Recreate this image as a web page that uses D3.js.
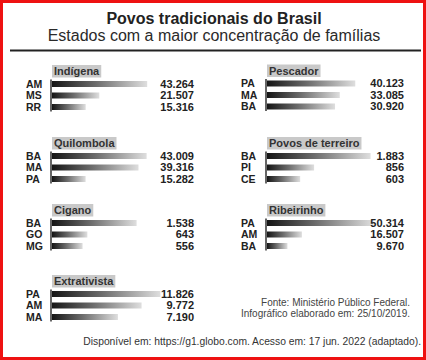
<!DOCTYPE html>
<html><head><meta charset="utf-8">
<script src="https://cdn.jsdelivr.net/npm/d3@7"></script>
<style>
html,body{margin:0;padding:0;background:#fff;}
svg{display:block;font-family:"Liberation Sans",Arial,sans-serif;}
</style></head>
<body>
<svg id="c" width="426" height="360"></svg>
<script>
const titleText = "Povos tradicionais do Brasil";
const subtitleText = "Estados com a maior concentração de famílias";
const panelNames = ["Indígena","Quilombola","Cigano","Extrativista","Pescador","Povos de terreiro","Ribeirinho"];
const panelStates = [["AM","MS","RR"],["BA","MA","PA"],["BA","GO","MG"],["PA","AM","MA"],["PA","MA","BA"],["BA","PI","CE"],["PA","AM","BA"]];
const panelValues = [[43264,21507,15316],[43009,39316,15282],[1538,643,556],[11826,9772,7190],[40123,33085,30920],[1883,856,603],[50314,16507,9670]];
const panelScaleMax = [50000,50000,2000,12000,50000,2000,52000];
const footerLines = ["Fonte: Ministério Público Federal.","Infográfico elaborado em: 25/10/2019."];
const sourceLine = "Disponível em: https://g1.globo.com. Acesso em: 17 jun. 2022 (adaptado).";

// layout
const panelCol = [0,0,0,0,1,1,1];
const panelTop = [65,137,204,275,64.5,137,204];
const axisX = [51,266];
const valueX = [194,404];
const barMaxW = 110;

const svg = d3.select("#c");
const fmt = d3.formatLocale({decimal:",",thousands:".",grouping:[3],currency:["R$",""]}).format(",d");

const defs = svg.append("defs");
const grad = defs.append("linearGradient").attr("id","barGrad");
grad.append("stop").attr("offset","0%").attr("stop-color","#151515");
grad.append("stop").attr("offset","45%").attr("stop-color","#6a6a6a");
grad.append("stop").attr("offset","100%").attr("stop-color","#dedede");

// red frame
svg.append("rect").attr("x",1.5).attr("y",1.5).attr("width",423).attr("height",357)
  .attr("fill","none").attr("stroke","#ee1111").attr("stroke-width",3);

svg.append("text").attr("x",214).attr("y",24).attr("text-anchor","middle")
  .attr("font-size",16).attr("font-weight","bold").attr("fill","#222").text(titleText);
svg.append("text").attr("x",214).attr("y",41).attr("text-anchor","middle")
  .attr("font-size",16).attr("fill","#2a2a2a").text(subtitleText);
svg.append("line").attr("x1",10).attr("x2",421).attr("y1",50.5).attr("y2",50.5)
  .attr("stroke","#222").attr("stroke-width",2);

panelNames.forEach((name,i)=>{
  const col = panelCol[i], top = panelTop[i], ax = axisX[col];
  const g = svg.append("g");
  const x = d3.scaleLinear().domain([0,panelScaleMax[i]]).range([ax+1, ax+1+barMaxW]);
  const y = d3.scalePoint().domain(panelStates[i]).range([top+19, top+42]);
  const data = panelStates[i].map((s,j)=>({s, v:panelValues[i][j]}));

  // title box
  const lbl = g.append("text").attr("x",ax+3).attr("y",top+10)
    .attr("font-size",11).attr("font-weight","bold").attr("fill","#333").text(name);
  const tw = lbl.node().getComputedTextLength();
  g.insert("rect","text").attr("x",ax+1).attr("y",top).attr("width",tw+4).attr("height",12.5)
    .attr("fill","#c9c9c9");

  g.selectAll("rect.bar").data(data).join("rect").attr("class","bar")
    .attr("x",x(0)).attr("y",d=>y(d.s)-3).attr("height",6)
    .attr("width",d=>x(d.v)-x(0)).attr("fill","url(#barGrad)");

  g.append("line").attr("x1",ax).attr("x2",ax)
    .attr("y1",y.range()[0]-4.5).attr("y2",y.range()[1]+4.5)
    .attr("stroke","#333").attr("stroke-width",1.5);

  g.selectAll("text.st").data(data).join("text").attr("class","st")
    .attr("x",ax-25).attr("y",d=>y(d.s)+3.8)
    .attr("font-size",10.5).attr("font-weight","bold").attr("fill","#222").text(d=>d.s);

  g.selectAll("text.val").data(data).join("text").attr("class","val")
    .attr("x",valueX[col]).attr("y",d=>y(d.s)+3.8).attr("text-anchor","end")
    .attr("font-size",11).attr("font-weight","bold").attr("fill","#222").text(d=>fmt(d.v));
});

svg.selectAll("text.foot").data(footerLines).join("text").attr("class","foot")
  .attr("x",410).attr("y",(d,i)=>306+i*11).attr("text-anchor","end")
  .attr("font-size",10).attr("fill","#444").text(d=>d);
svg.append("text").attr("x",421).attr("y",345).attr("text-anchor","end")
  .attr("font-size",10.3).attr("fill","#333").text(sourceLine);
</script>
</body></html>
